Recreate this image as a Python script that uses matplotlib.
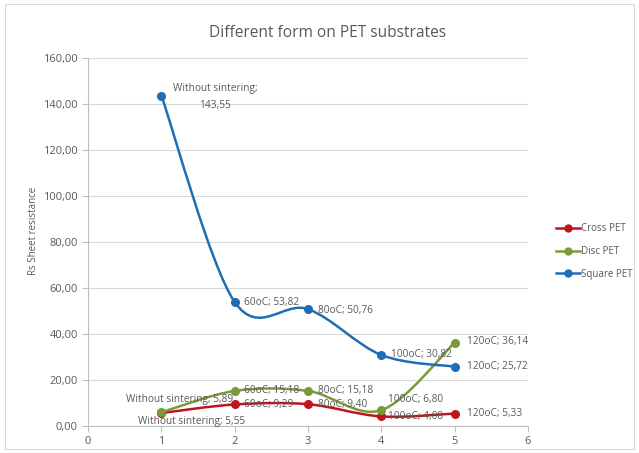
import numpy as np
import matplotlib
matplotlib.use("Agg")
import matplotlib.pyplot as plt
from matplotlib.path import Path
from matplotlib.patches import PathPatch, Rectangle

x = [1, 2, 3, 4, 5]
stages = ["Without sintering", "60oC", "80oC", "100oC", "120oC"]
cross = [5.55, 9.29, 9.40, 4.08, 5.33]
disc = [5.89, 15.18, 15.18, 6.80, 36.14]
square = [143.55, 53.82, 50.76, 30.82, 25.72]

series = [
    ("Cross PET", cross, "#c0141c"),
    ("Disc PET", disc, "#7a9a3a"),
    ("Square PET", square, "#1f6db5"),
]

# label offsets in points (dx, dy, ha) per series per point
offsets = {
    "Cross PET": [(22, -6, "center"), (7, 0, "left"), (7, 0, "left"), (5, 0, "left"), (9, 0, "left")],
    "Disc PET": [(13, 9, "center"), (7, 0, "left"), (7, 0, "left"), (5, 8, "left"), (9, 1, "left")],
    "Square PET": [(8, -1, "left"), (7, 0, "left"), (7, -1, "left"), (7, 0, "left"), (9, 0, "left")],
}

txt = "#595959"
plt.rcParams["font.family"] = ["Open Sans", "DejaVu Sans"]

fig = plt.figure(figsize=(6.39, 4.53), dpi=100)
fig.patches.append(Rectangle((0.008, 0.008), 0.984, 0.984, transform=fig.transFigure,
                             fill=False, edgecolor="#d9d9d9", linewidth=0.8))
ax = fig.add_axes([0.138, 0.06, 0.688, 0.812])


def smooth_path(xs, ys, t=1 / 6):
    # Catmull-Rom style bezier through the points
    pts = np.column_stack([xs, ys]).astype(float)
    ext = np.vstack([pts[0], pts, pts[-1]])
    verts = [pts[0]]
    codes = [Path.MOVETO]
    for i in range(len(pts) - 1):
        p0, p1, p2, p3 = ext[i], ext[i + 1], ext[i + 2], ext[i + 3]
        verts += [p1 + (p2 - p0) * t, p2 - (p3 - p1) * t, p2]
        codes += [Path.CURVE4] * 3
    return Path(verts, codes)


for name, vals, col in series:
    ax.add_patch(PathPatch(smooth_path(x, vals), facecolor="none", edgecolor=col,
                           linewidth=1.8, zorder=3))
    ax.plot(x, vals, "o", color=col, markersize=5.5, zorder=4)
    ax.plot([], [], "-o", color=col, lw=1.8, ms=5, label=name)
    for i, (xi, v) in enumerate(zip(x, vals)):
        dx, dy, ha = offsets[name][i]
        lab = f"{stages[i]}; {v:.2f}".replace(".", ",")
        if name == "Square PET" and i == 0:
            lab = f"{stages[i]};\n{v:.2f}".replace(".", ",")
            ax.annotate(lab, (xi, v), xytext=(dx, dy), textcoords="offset points",
                        ha="left", va="center", fontsize=7.3, color=txt,
                        multialignment="center", linespacing=1.7, zorder=5)
            continue
        ax.annotate(lab, (xi, v), xytext=(dx, dy), textcoords="offset points",
                    ha=ha, va="center", fontsize=7.3, color=txt, zorder=5)

ax.set_xlim(0, 6)
ax.set_ylim(0, 160)
ax.set_xticks(range(0, 7))
ax.set_yticks(np.arange(0, 161, 20))
ax.set_yticklabels([f"{v:.2f}".replace(".", ",") for v in np.arange(0, 161, 20)])
ax.grid(axis="y", color="#d9d9d9", linewidth=0.8)
ax.set_axisbelow(True)
for s in ["top", "right"]:
    ax.spines[s].set_visible(False)
for s in ["left", "bottom"]:
    ax.spines[s].set_color("#bfbfbf")
ax.tick_params(colors="#bfbfbf", labelcolor=txt, labelsize=8, length=4)
ax.set_ylabel("Rs Sheet resistance", fontsize=7, color=txt)
ax.yaxis.set_label_coords(-0.112, 0.53)
fig.suptitle("Different form on PET substrates", x=0.513, y=0.945, fontsize=11.2, color=txt)

fig.legend(loc="center left", bbox_to_anchor=(0.857, 0.445), frameon=False, fontsize=7,
           labelcolor=txt, handlelength=2.4, labelspacing=1.2, handletextpad=0.1)

fig.savefig("out.png", dpi=100)
